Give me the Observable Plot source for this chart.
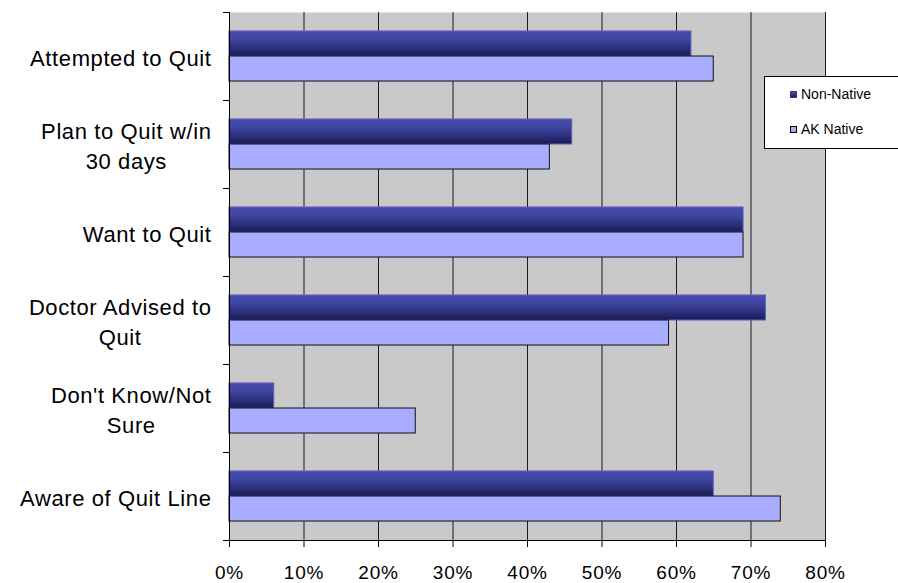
<!DOCTYPE html>
<html><head><meta charset="utf-8">
<script src="https://cdn.jsdelivr.net/npm/d3@7"></script>
<script src="https://cdn.jsdelivr.net/npm/@observablehq/plot@0.6"></script>
<style>
body{margin:0;background:#fff;font-family:"Liberation Sans",Arial,sans-serif}
#wrap{position:relative;width:898px;height:583px;overflow:hidden}
#legend{position:absolute;left:764px;top:76px;width:150px;height:71px;border:1px solid #000;background:#fff;font-size:14px;color:#000}
.item{position:absolute;left:25px;display:flex;align-items:center;white-space:nowrap}
.sw{width:7px;height:7px;margin-right:4px;box-sizing:border-box}
</style>
</head><body>
<div id="wrap"></div>
<script>
const categories = ["Attempted to Quit", "Plan to Quit w/in\n30 days", "Want to Quit", "Doctor Advised to\nQuit", "Don't Know/Not\nSure", "Aware of Quit Line"];
const nonNative = [0.62, 0.46, 0.69, 0.72, 0.06, 0.65];
const akNative  = [0.65, 0.43, 0.69, 0.59, 0.25, 0.74];
const seriesNames = ["Non-Native", "AK Native"];
const xTicks = [0, 0.1, 0.2, 0.3, 0.4, 0.5, 0.6, 0.7, 0.8];

const rows = categories.map((c, i) => ({category: c, nonNative: nonNative[i], akNative: akNative[i]}));

const W = 898, H = 583, mT = 12, mB = 43, mL = 229, mR = 73;
const half = (H - mT - mB) / categories.length / 2;

const defs = () => {
  const d = d3.create("svg:defs");
  const g = d.append("linearGradient").attr("id", "gradDark").attr("x1", 0).attr("y1", 0).attr("x2", 0).attr("y2", 1);
  g.append("stop").attr("offset", "0").attr("stop-color", "#474db0");
  g.append("stop").attr("offset", "0.35").attr("stop-color", "#3e44a0");
  g.append("stop").attr("offset", "1").attr("stop-color", "#1b1b56");
  return d.node();
};

const chart = Plot.plot({
  width: W, height: H,
  marginTop: mT, marginBottom: mB, marginLeft: mL, marginRight: mR,
  style: {fontFamily: "'Liberation Sans', Arial, sans-serif", background: "#fff", color: "#000"},
  x: {domain: [0, 0.8]},
  y: {domain: categories, padding: 0, axis: null},
  marks: [
    defs,
    Plot.frame({fill: "#c9c9c9", stroke: null}),
    Plot.ruleX(xTicks.slice(1), {stroke: "#1a1a1a", strokeWidth: 1}),
    Plot.barX(rows, {x: "nonNative", y: "category", fill: "url(#gradDark)", stroke: "#5c5cbc", strokeWidth: 1, insetTop: 19, insetBottom: 44}),
    Plot.barX(rows, {x: "akNative", y: "category", fill: "#a8acff", stroke: "#111", strokeWidth: 1, insetTop: 44, insetBottom: 19}),
    Plot.ruleX([0], {stroke: "#000", strokeWidth: 1}),
    Plot.ruleY(categories, {y: d => d, x1: -0.008, x2: 0, dy: -half, stroke: "#000"}),
    Plot.ruleY([categories[categories.length - 1]], {y: d => d, x1: -0.008, x2: 0.8, dy: half, stroke: "#000"}),
    Plot.axisX({ticks: xTicks, tickFormat: d3.format(".0%"), tickSize: 7, tickPadding: 18, fontSize: 19, stroke: "#000", fill: "#000"}),
    Plot.text(categories, {y: d => d, frameAnchor: "left", dx: -18, textAnchor: "end", text: d => d, fontSize: 22, lineHeight: 1.38, fill: "#000"})
  ]
});

const wrap = document.getElementById("wrap");
wrap.appendChild(chart);

// center multi-line category labels within their right-aligned block
chart.querySelectorAll('g[aria-label="text"]').forEach(lg => {
  lg.style.letterSpacing = "0.6px";
  lg.querySelectorAll("text").forEach(t => {
    const spans = [...t.querySelectorAll("tspan")];
    if (spans.length > 1) {
      const w = Math.max(...spans.map(s => s.getComputedTextLength()));
      t.setAttribute("text-anchor", "middle");
      spans.forEach(s => s.setAttribute("x", -w / 2));
    }
  });
});
const xa = chart.querySelector('g[aria-label="x-axis tick label"]');
if (xa) xa.style.letterSpacing = "0.8px";

// legend
const legend = document.createElement("div");
legend.id = "legend";
const swatches = [{fill: "linear-gradient(#474db0,#1b1b56)", border: "1px solid #3a3a90"}, {fill: "#a8acff", border: "1px solid #000"}];
seriesNames.forEach((name, i) => {
  const it = document.createElement("div");
  it.className = "item";
  it.style.top = (i === 0 ? 9 : 44) + "px";
  const sw = document.createElement("span");
  sw.className = "sw";
  sw.style.background = swatches[i].fill;
  sw.style.border = swatches[i].border;
  it.appendChild(sw);
  it.appendChild(document.createTextNode(name));
  legend.appendChild(it);
});
wrap.appendChild(legend);
</script>
</body></html>
